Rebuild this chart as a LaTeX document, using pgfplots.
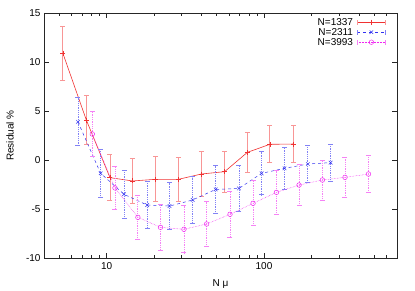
\documentclass[border=0pt]{standalone}
\usepackage{pgfplots}
\pgfplotsset{compat=1.18}
\usepackage{fontspec}
\setmainfont{Liberation Sans}
\definecolor{gred}{RGB}{240,50,50}
\definecolor{gredl}{RGB}{248,150,150}
\definecolor{gblue}{RGB}{50,50,240}
\definecolor{gbluel}{RGB}{130,130,245}
\definecolor{gmag}{RGB}{240,40,240}
\definecolor{gmagl}{RGB}{245,130,245}
\pgfplotsset{
  capleg/.style={legend image code/.code={
    \draw[##1, mark repeat=2, mark phase=2] plot coordinates {(0bp,0bp) (14bp,0bp) (28bp,0bp)};
    \draw[#1, line width=0.8pt, solid] (0bp,-2.5bp) -- (0bp,2.5bp) (28bp,-2.5bp) -- (28bp,2.5bp);
  }},
}
\begin{document}
\begin{tikzpicture}
\useasboundingbox (-44bp,-33bp) rectangle (371bp,258bp);
\begin{axis}[
  scale only axis,
  width=353bp, height=245bp,
  xmode=log, log basis x=10,
  xmin=4, xmax=700, ymin=-10, ymax=15,
  xtick={10,100}, xticklabels={10,100},
  minor xtick={4,5,6,7,8,9,20,30,40,50,60,70,80,90,200,300,400,500,600,700},
  ytick={-10,-5,0,5,10,15},
  tick align=inside,
  major tick length=5bp, minor tick length=3bp,
  axis line style={black!85, line width=0.6pt},
  every tick/.style={black!85, line width=0.5pt},
  tick label style={font=\fontsize{10bp}{12bp}\selectfont},
  /pgf/number format/assume math mode=true,
  xticklabel style={yshift=-1bp},
  xlabel={N μ}, ylabel={Residual \%},
  label style={font=\fontsize{10bp}{12bp}\selectfont},
  xlabel style={at={(axis description cs:0.5,-0.106)}, anchor=center},
  ylabel style={at={(axis description cs:-0.0963,0.5)}, anchor=center},
  legend plot pos=right,
  legend cell align=right,
  legend style={at={(axis description cs:1,1)}, anchor=north east, xshift=-11bp, yshift=-4bp,
    draw=none, fill=none, inner sep=0pt, row sep=0pt, column sep=3bp,
    nodes={inner sep=1bp, text height=7.5bp, text depth=0.5bp, font=\fontsize{10bp}{12bp}\selectfont}},
]
\addplot+[gred, line width=0.6pt, mark=+, mark size=2.5bp, mark options={solid, gred}, capleg=gredl,
  error bars/.cd, y dir=both, y explicit,
  error bar style={gredl, line width=0.9pt, solid},
  error mark options={gredl, line width=0.9pt, mark size=2.5bp, rotate=90}]
  coordinates {
  (5.27,10.9) +- (0,2.75)
  (7.43,4.08) +- (0,2.48)
  (10.5,-1.8) +- (0,2.37)
  (14.6,-2.14) +- (0,2.33)
  (20.5,-1.97) +- (0,2.3)
  (28.6,-1.97) +- (0,2.25)
  (40.0,-1.43) +- (0,2.3)
  (56.2,-1.19) +- (0,2.1)
  (78.4,0.78) +- (0,2.0)
  (109,1.6) +- (0,1.9)
  (154,1.63) +- (0,1.9)
  };
\addlegendentry{N=1337}
\addplot+[gblue, line width=0.5pt, dashed, mark=x, mark size=2.5bp, mark options={solid, gblue}, capleg=gbluel,
  error bars/.cd, y dir=both, y explicit,
  error bar style={gbluel, line width=0.8pt, densely dotted},
  error mark options={gbluel, line width=0.8pt, mark size=2.5bp, rotate=90, solid}]
  coordinates {
  (6.57,3.9) +- (0,2.45)
  (9.16,-1.36) +- (0,2.45)
  (12.9,-3.5) +- (0,2.45)
  (18.1,-4.6) +- (0,2.42)
  (25.1,-4.7) +- (0,2.4)
  (35.2,-4.08) +- (0,2.38)
  (49.3,-3.0) +- (0,2.4)
  (69.3,-2.9) +- (0,2.3)
  (96.6,-1.36) +- (0,2.2)
  (135,-0.85) +- (0,2.1)
  (190,-0.41) +- (0,1.92)
  (265,-0.27) +- (0,1.87)
  };
\addlegendentry{N=2311}
\addplot+[gmag, line width=0.5pt, densely dotted, mark=o, mark size=2.3bp, mark options={solid, gmag}, capleg=gmagl,
  error bars/.cd, y dir=both, y explicit,
  error bar style={gmagl, line width=0.8pt, densely dotted},
  error mark options={gmagl, line width=0.8pt, mark size=2.5bp, rotate=90, solid}]
  coordinates {
  (8.11,2.65) +- (0,2.3)
  (11.3,-2.85) +- (0,2.15)
  (15.8,-5.85) +- (0,2.27)
  (22.0,-6.87) +- (0,2.35)
  (31.0,-7.07) +- (0,2.4)
  (43.2,-6.53) +- (0,2.3)
  (60.8,-5.54) +- (0,2.33)
  (85.2,-4.42) +- (0,2.3)
  (120,-3.3) +- (0,2.2)
  (167,-2.55) +- (0,2.1)
  (235,-2.04) +- (0,2.04)
  (327,-1.77) +- (0,2.0)
  (461,-1.43) +- (0,1.92)
  };
\addlegendentry{N=3993}
\end{axis}
\end{tikzpicture}
\end{document}
